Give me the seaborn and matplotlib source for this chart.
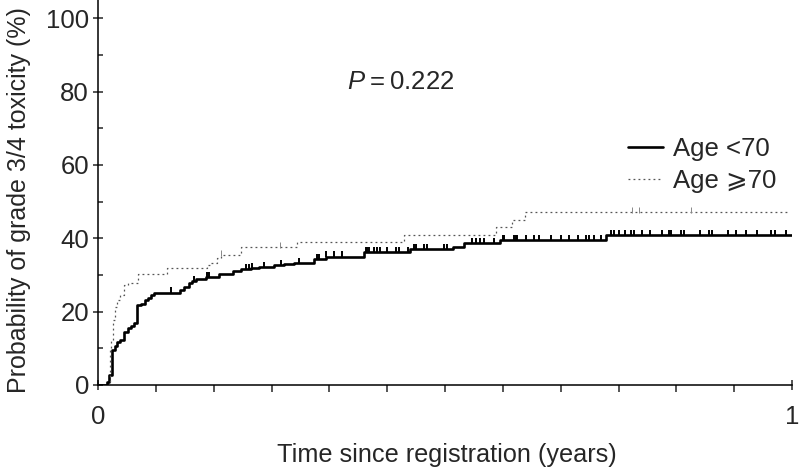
import numpy as np
import pandas as pd
import matplotlib
matplotlib.use("Agg")
import matplotlib.pyplot as plt
from matplotlib.ticker import MultipleLocator
import seaborn as sns

# cumulative incidence of grade 3/4 toxicity (%), step functions
young_t = [0, 0.013, 0.016, 0.020, 0.024, 0.028, 0.032, 0.038, 0.043, 0.048, 0.052,
           0.056, 0.062, 0.067, 0.072, 0.076, 0.081, 0.118, 0.124, 0.131, 0.136,
           0.141, 0.155, 0.174, 0.194, 0.206, 0.220, 0.232, 0.254, 0.268, 0.282,
           0.311, 0.328, 0.383, 0.450, 0.511, 0.527, 0.579, 0.732, 1.0]
young_p = [0, 0.8, 2.7, 9.5, 10.6, 11.8, 12.3, 14.5, 15.5, 16.0, 17.0,
           21.8, 22.2, 23.2, 23.6, 24.5, 25.2, 25.9, 26.6, 27.7, 28.4,
           28.8, 29.5, 30.4, 31.1, 31.5, 31.8, 32.2, 32.7, 33.0, 33.3,
           34.3, 35.0, 36.2, 37.0, 37.7, 38.6, 39.5, 40.8, 40.8]

old_t = [0, 0.016, 0.017, 0.019, 0.021, 0.024, 0.028, 0.032, 0.038, 0.043, 0.057,
         0.100, 0.157, 0.162, 0.172, 0.177, 0.206, 0.287, 0.441, 0.573, 0.596,
         0.615, 0.993]
old_p = [0, 0, 9.5, 12.3, 17.7, 21.3, 23.2, 24.5, 27.2, 27.7, 30.4,
         31.9, 32.7, 33.3, 34.5, 35.4, 37.7, 39.0, 40.9, 43.1, 45.1,
         47.2, 47.2]

# censoring marks (years)
young_cens = [0.105, 0.138, 0.157, 0.160, 0.213, 0.218, 0.222, 0.239, 0.263, 0.290,
              0.316, 0.318, 0.328, 0.340, 0.352, 0.386, 0.388, 0.390, 0.398, 0.402,
              0.407, 0.417, 0.429, 0.434, 0.446, 0.455, 0.458, 0.470, 0.474, 0.499,
              0.503, 0.539, 0.544, 0.551, 0.556, 0.571, 0.583, 0.585, 0.599, 0.602,
              0.604, 0.616, 0.628, 0.635, 0.652, 0.667, 0.679, 0.691, 0.703, 0.707,
              0.715, 0.724, 0.739, 0.744, 0.751, 0.760, 0.768, 0.772, 0.784, 0.796,
              0.813, 0.823, 0.825, 0.840, 0.844, 0.868, 0.880, 0.885, 0.907, 0.919,
              0.933, 0.950, 0.969, 0.976, 0.991]
old_cens = [0.177, 0.262, 0.770, 0.780, 0.854]

labels = ["Age <70", "Age \u2a7e70"]
p_text = "0.222"


def step_at(t, times, probs):
    idx = np.searchsorted(times, t, side="right") - 1
    return np.asarray(probs)[idx]


sns.set_style("ticks")
plt.rcParams["font.family"] = ["Liberation Sans", "DejaVu Sans"]
plt.rcParams["mathtext.fontset"] = "custom"
plt.rcParams["mathtext.it"] = "Liberation Sans:italic"
plt.rcParams["mathtext.rm"] = "Liberation Sans"

fs = 18.5

fig = plt.figure(figsize=(7.99, 4.70), dpi=100)
ax = fig.add_axes([0.1227, 0.1809, 0.8686, 0.8191])

df_young = pd.DataFrame({"t": young_t, "p": young_p})
df_old = pd.DataFrame({"t": old_t, "p": old_p})

sns.lineplot(data=df_young, x="t", y="p", ax=ax, estimator=None, sort=False,
             drawstyle="steps-post", color="black", lw=1.9, label=labels[0])
sns.lineplot(data=df_old, x="t", y="p", ax=ax, estimator=None, sort=False,
             drawstyle="steps-post", color="#555555", lw=0.9,
             linestyle=(0, (1.5, 2.5)), label=labels[1])

yc = step_at(np.array(young_cens), young_t, young_p)
ax.plot(young_cens, yc + 0.6, ls="none", marker="|", ms=5, mew=1.4, color="black")
oc = step_at(np.array(old_cens), old_t, old_p)
ax.plot(old_cens, oc + 0.5, ls="none", marker="|", ms=4, mew=0.7, color="#888888")

ax.set_xlim(0, 1)
ax.set_ylim(0, 105)
ax.set_xticks([0, 1])
ax.set_xticklabels(["0", "1"])
ax.xaxis.set_minor_locator(MultipleLocator(1 / 12))
ax.set_yticks(np.arange(0, 101, 20))
ax.yaxis.set_minor_locator(MultipleLocator(10))

ax.tick_params(axis="y", which="major", direction="inout", length=7, width=1.1,
               labelsize=fs, pad=3)
ax.tick_params(axis="y", which="minor", direction="in", length=3.5, width=1.1)
ax.tick_params(axis="x", which="major", direction="inout", length=7, width=1.1,
               labelsize=fs, pad=11)
ax.tick_params(axis="x", which="minor", direction="out", length=5, width=1.1)

sns.despine(ax=ax)
for s in ["left", "bottom"]:
    ax.spines[s].set_linewidth(1.1)
    ax.spines[s].set_color("black")

ax.set_xlabel("Time since registration (years)", fontsize=18.2)
ax.set_ylabel("Probability of grade 3/4 toxicity (%)", fontsize=18)
ax.xaxis.set_label_coords(0.502, -0.151)
ax.yaxis.set_label_coords(-0.096, 0.48)

ax.text(0.359, 82.6, "$P$\u2009=\u2009" + p_text, fontsize=fs, va="center", ha="left")

leg = ax.legend(loc="upper left", bbox_to_anchor=(0.749, 0.672), frameon=False,
                fontsize=fs, handlelength=1.36, handletextpad=0.4, labelspacing=0.32,
                borderaxespad=0)

fig.savefig("out.png", dpi=100)
